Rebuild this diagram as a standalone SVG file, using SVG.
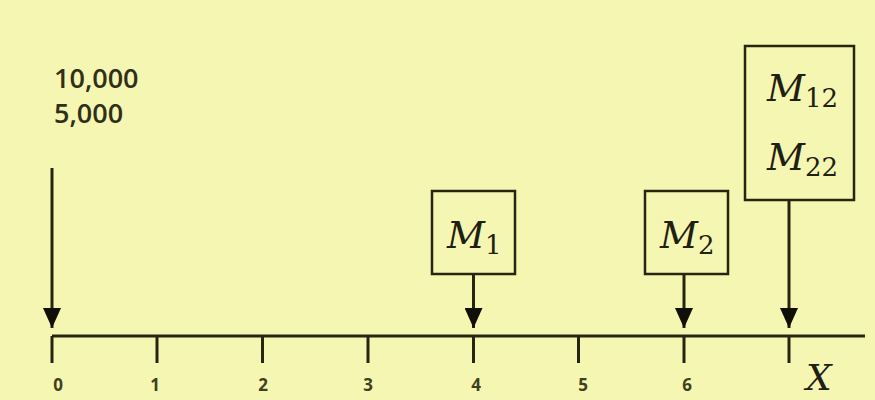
<svg xmlns="http://www.w3.org/2000/svg" width="875" height="400" viewBox="0 0 875 400">
<style>
.ln{stroke:#262610;stroke-width:3;fill:none}
.box{stroke:#262610;stroke-width:2.5;fill:none}
.num{font-family:"Open Sans","Liberation Sans",sans-serif;font-weight:600;fill:#303018}
.tick{font-family:"Open Sans","Liberation Sans",sans-serif;font-weight:700;font-size:17px;fill:#404020;text-anchor:middle}
.m{font-family:"DejaVu Serif","Liberation Serif",serif;fill:#202010}
.mi{font-style:italic;font-size:37px}
.sub{font-size:26px}
</style>
<defs>
<marker id="ah" markerWidth="20" markerHeight="18" refX="20" refY="9" orient="auto" markerUnits="userSpaceOnUse" viewBox="0 0 20 18">
<path d="M0,0 L20,9 L0,18 Z" fill="#101008"/>
</marker>
</defs>
<rect x="0" y="0" width="875" height="400" fill="#F6F6B3"/>
<g id="axis">
<line class="ln" x1="52" y1="336" x2="865" y2="336"/>
<line class="ln" x1="52" y1="336" x2="52" y2="363"/>
<line class="ln" x1="157" y1="336" x2="157" y2="363"/>
<line class="ln" x1="262.5" y1="336" x2="262.5" y2="363"/>
<line class="ln" x1="368" y1="336" x2="368" y2="363"/>
<line class="ln" x1="473.5" y1="336" x2="473.5" y2="363"/>
<line class="ln" x1="578.5" y1="336" x2="578.5" y2="363"/>
<line class="ln" x1="684" y1="336" x2="684" y2="363"/>
<line class="ln" x1="789" y1="336" x2="789" y2="363"/>
<text class="tick" x="58" y="391">0</text>
<text class="tick" x="155" y="391">1</text>
<text class="tick" x="263" y="391">2</text>
<text class="tick" x="368" y="391">3</text>
<text class="tick" x="476" y="391">4</text>
<text class="tick" x="583" y="391">5</text>
<text class="tick" x="687" y="391">6</text>
<text class="m" x="806" y="390" font-style="italic" font-size="36">X</text>
</g>
<g id="n0">
<text class="num" x="54" y="88" font-size="27">10,000</text>
<text class="num" x="54" y="123" font-size="27">5,000</text>
</g>
<g id="n1">
<rect class="box" x="432" y="191" width="83" height="83"/>
<text class="m" x="447" y="248"><tspan class="mi">M</tspan><tspan class="sub" dy="6">1</tspan></text>
</g>
<g id="n2">
<rect class="box" x="645" y="191" width="83" height="83"/>
<text class="m" x="660" y="248"><tspan class="mi">M</tspan><tspan class="sub" dy="6">2</tspan></text>
</g>
<g id="n3">
<rect class="box" x="745" y="46" width="109" height="154"/>
<text class="m" x="767" y="101"><tspan class="mi">M</tspan><tspan class="sub" dy="6">12</tspan></text>
<text class="m" x="767" y="170"><tspan class="mi">M</tspan><tspan class="sub" dy="6">22</tspan></text>
</g>
<g id="connectors">
<line class="ln" x1="52" y1="168" x2="52" y2="328" marker-end="url(#ah)"/>
<line class="ln" x1="473.5" y1="274" x2="473.5" y2="328" marker-end="url(#ah)"/>
<line class="ln" x1="684" y1="274" x2="684" y2="328" marker-end="url(#ah)"/>
<line class="ln" x1="789" y1="200" x2="789" y2="328" marker-end="url(#ah)"/>
</g>
</svg>
